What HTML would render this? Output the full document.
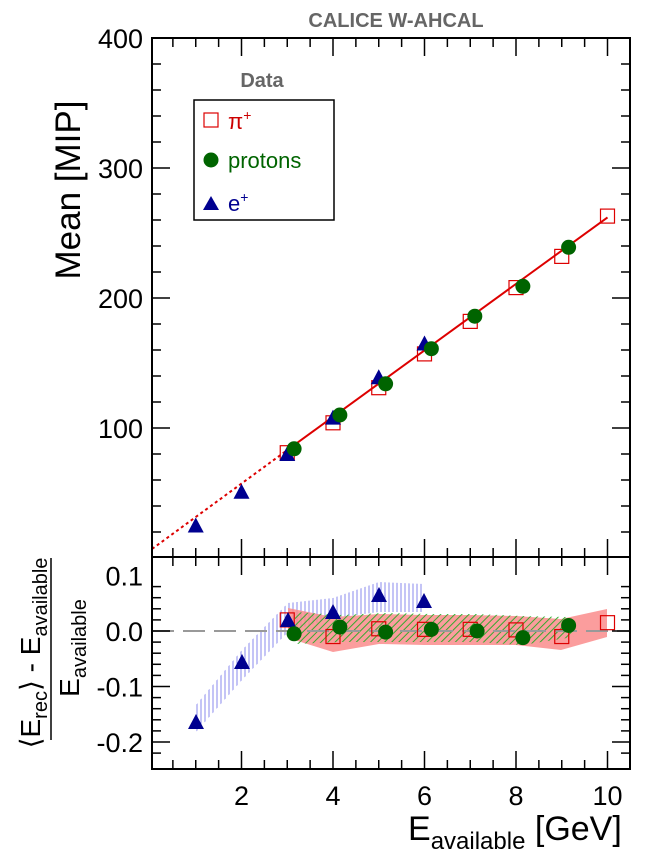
<!DOCTYPE html>
<html><head><meta charset="utf-8"><style>
html,body{margin:0;padding:0;background:#fff;}
svg{display:block;font-family:"Liberation Sans",Arial,sans-serif;}
</style></head><body>
<svg id="s" width="664" height="860" xmlns="http://www.w3.org/2000/svg">
<defs>
<pattern id="vh" width="4" height="4" patternUnits="userSpaceOnUse"><line x1="1" y1="0" x2="1" y2="4" stroke="#8a8aee" stroke-width="1"/></pattern>
<pattern id="dh" width="5" height="5" patternUnits="userSpaceOnUse" patternTransform="rotate(45)"><line x1="1" y1="0" x2="1" y2="5" stroke="#22aa22" stroke-width="0.9"/></pattern>
</defs>
<g id="g"></g>
<text x="396" y="27" text-anchor="middle" font-size="20" font-weight="bold" fill="#666">CALICE W-AHCAL</text>
<text transform="translate(80,190) rotate(-90)" text-anchor="middle" font-size="35">Mean [MIP]</text>
<text x="408" y="840" font-size="34">E<tspan font-size="24" dy="9">available</tspan><tspan dy="-9"> [GeV]</tspan></text>
<line x1="51" y1="558" x2="51" y2="740" stroke="#000" stroke-width="1.5"/>
<text transform="translate(40,653) rotate(-90)" text-anchor="middle" font-size="28">⟨E<tspan font-size="20" dy="7">rec</tspan><tspan dy="-7">⟩ - E</tspan><tspan font-size="20" dy="7">available</tspan></text>
<text transform="translate(79,648) rotate(-90)" text-anchor="middle" font-size="28">E<tspan font-size="20" dy="7">available</tspan></text>
<text x="262" y="87" text-anchor="middle" font-size="20" font-weight="bold" fill="#666">Data</text>
<rect x="194" y="100" width="140" height="120" fill="#fff" stroke="#000" stroke-width="1.5"/>
<rect x="204" y="113" width="14" height="14" fill="none" stroke="#d00" stroke-width="1.2"/>
<text x="228" y="129" font-size="22" fill="#c00">π<tspan font-size="14" dy="-9">+</tspan></text>
<circle cx="211" cy="160" r="7.5" fill="#006400"/>
<text x="228" y="168" font-size="22" fill="#006400">protons</text>
<polygon points="203,210 211,196 219,210" fill="#000090"/>
<text x="228" y="211" font-size="22" fill="#000090">e<tspan font-size="14" dy="-9">+</tspan></text>
</svg>
<script>
const g=document.getElementById('g');let h='';
const X=e=>150+45.75*e, Yt=v=>558-1.3*v, Yb=v=>631-555*v;
h+='<polygon points="196,705 242,650 288,603 333,598 379,582 424,584 424,612 379,612 333,618 288,632 242,680 196,732" fill="url(#vh)"/>';
h+='<polygon points="288,608 333,617 379,614 424,615 470,615 516,616 561,619 607,609 607,637 561,650 516,645 470,645 424,645 379,644 333,652 288,638" fill="#fa8c8c" opacity="0.85"/>';
h+='<polygon points="295,612 340,615 386,613 431,614 476,614 522,616 567,617 574,626 574,636 567,638 522,645 476,642 431,642 386,642 340,642 295,644" fill="url(#dh)"/>';
h+='<line x1="152" y1="631" x2="630" y2="631" stroke="#999" stroke-width="2" stroke-dasharray="22,9"/>';
h+='<line x1="152" y1="549" x2="'+X(3)+'" y2="'+Yt(83)+'" stroke="#d00" stroke-width="2" stroke-dasharray="3,3"/>';
h+='<line x1="'+X(3)+'" y1="'+Yt(83)+'" x2="'+X(10)+'" y2="'+Yt(262)+'" stroke="#d00" stroke-width="2"/>';
const sq=(x,y)=>'<rect x="'+(x-7)+'" y="'+(y-7)+'" width="14" height="14" fill="none" stroke="#d00" stroke-width="1.2"/>';
const ci=(x,y)=>'<circle cx="'+x+'" cy="'+y+'" r="7.5" fill="#006400"/>';
const tr=(x,y)=>'<polygon points="'+(x-8)+','+(y+7)+' '+x+','+(y-8)+' '+(x+8)+','+(y+7)+'" fill="#000090"/>';
[[3,81],[4,104],[5,131],[6,157],[7,182],[8,208],[9,232],[10,263]].forEach(p=>h+=sq(X(p[0]),Yt(p[1])));
[[1,25],[2,51],[3,80],[4,108],[5,139],[6,165]].forEach(p=>h+=tr(X(p[0]),Yt(p[1])));
[[3.15,84],[4.15,110],[5.15,134],[6.15,161],[7.1,186],[8.15,209],[9.15,239]].forEach(p=>h+=ci(X(p[0]),Yt(p[1])));
[[3,0.02],[4,-0.01],[5,0.004],[6,0.003],[7,0.003],[8,0.002],[9,-0.01],[10,0.015]].forEach(p=>h+=sq(X(p[0]),Yb(p[1])));
[[196,722],[242,662],[288,620],[333,612],[379,595],[424,601]].forEach(p=>h+=tr(p[0],p[1]));
[[3.15,-0.005],[4.15,0.007],[5.15,-0.002],[6.15,0.003],[7.15,0.0],[8.15,-0.012],[9.15,0.01]].forEach(p=>h+=ci(X(p[0]),Yb(p[1])));
h+='<rect x="152" y="38" width="478" height="519" fill="none" stroke="#000" stroke-width="2"/>';
h+='<rect x="152" y="557" width="478" height="212" fill="none" stroke="#000" stroke-width="2"/>';
for(let k=1;k<=20;k++){const e=k*0.5,x=X(e);if(x>629)break;const L=(k%4==0)?18:9;
 h+='<line x1="'+x+'" y1="38" x2="'+x+'" y2="'+(38+L)+'" stroke="#000" stroke-width="1.5"/>';
 h+='<line x1="'+x+'" y1="557" x2="'+x+'" y2="'+(557-L)+'" stroke="#000" stroke-width="1.5"/>';
 h+='<line x1="'+x+'" y1="557" x2="'+x+'" y2="'+(557+L)+'" stroke="#000" stroke-width="1.5"/>';
 h+='<line x1="'+x+'" y1="769" x2="'+x+'" y2="'+(769-L)+'" stroke="#000" stroke-width="1.5"/>';
 if(k%4==0)h+='<text x="'+x+'" y="805" text-anchor="middle" font-size="27">'+e+'</text>';}
for(let v=20;v<=400;v+=20){const y=Yt(v),L=(v%100==0)?18:9;
 h+='<line x1="152" y1="'+y+'" x2="'+(152+L)+'" y2="'+y+'" stroke="#000" stroke-width="1.5"/>';
 h+='<line x1="630" y1="'+y+'" x2="'+(630-L)+'" y2="'+y+'" stroke="#000" stroke-width="1.5"/>';
 if(v%100==0)h+='<text x="143" y="'+(y+10)+'" text-anchor="end" font-size="27">'+v+'</text>';}
for(let i=-11;i<=4;i++){const v=i*0.02,y=Yb(v);if(y<559||y>767)continue;const L=(i%5==0)?18:9;
 h+='<line x1="152" y1="'+y+'" x2="'+(152+L)+'" y2="'+y+'" stroke="#000" stroke-width="1.5"/>';
 h+='<line x1="630" y1="'+y+'" x2="'+(630-L)+'" y2="'+y+'" stroke="#000" stroke-width="1.5"/>';}
[[0.1,'0.1'],[0,'0.0'],[-0.1,'-0.1'],[-0.2,'-0.2']].forEach(p=>h+='<text x="143" y="'+(Yb(p[0])+10)+'" text-anchor="end" font-size="27">'+p[1]+'</text>');
g.innerHTML=h;
</script>
</body></html>
